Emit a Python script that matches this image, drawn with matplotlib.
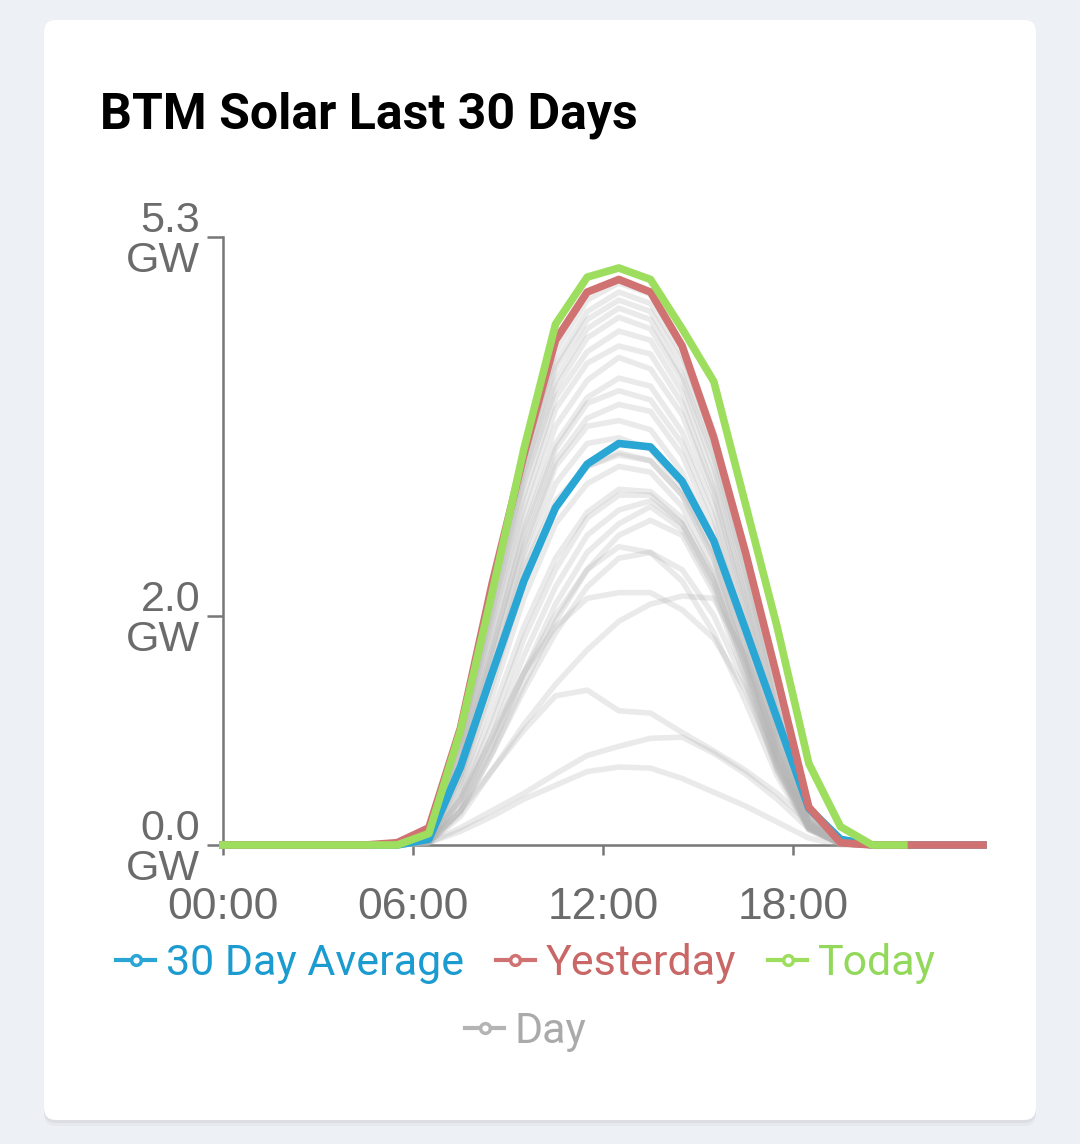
import matplotlib
matplotlib.use("Agg")
import matplotlib.pyplot as plt
from matplotlib.lines import Line2D
from matplotlib.patches import FancyBboxPatch

hours = [0.0] + [h + 0.5 for h in range(24)] + [24.0]
night_pts = 6        # 0.0 .. 4.5
day_pts = 16         # 5.5 .. 20.5

# GW, 05:30 .. 20:30
avg_30 = [0.0, 0.05, 0.68, 1.5, 2.3, 2.94, 3.32, 3.5, 3.47, 3.17, 2.65, 1.88, 1.1, 0.32, 0.05, 0.0]
yesterday = [0.02, 0.15, 1.02, 2.28, 3.4, 4.4, 4.82, 4.93, 4.82, 4.35, 3.55, 2.55, 1.46, 0.33, 0.02, 0.0]
today = [0.0, 0.1, 1.0, 2.2, 3.45, 4.54, 4.95, 5.03, 4.93, 4.5, 4.04, 2.97, 1.9, 0.71, 0.16, 0.0, 0.0]

days = [
    [0.02, 0.15, 1.0, 2.2, 3.35, 4.3, 4.75, 4.9, 4.8, 4.35, 3.6, 2.5, 1.3, 0.33, 0.03, 0.0],
    [0.01, 0.12, 0.95, 2.15, 3.3, 4.2, 4.65, 4.82, 4.72, 4.28, 3.52, 2.45, 1.25, 0.3, 0.02, 0.0],
    [0.01, 0.1, 0.9, 2.1, 3.25, 4.15, 4.58, 4.75, 4.65, 4.2, 3.45, 2.38, 1.2, 0.3, 0.02, 0.0],
    [0.0, 0.1, 0.92, 2.05, 3.2, 4.05, 4.5, 4.68, 4.58, 4.1, 3.38, 2.3, 1.15, 0.28, 0.02, 0.0],
    [0.0, 0.08, 0.85, 2.0, 3.15, 3.98, 4.42, 4.6, 4.5, 4.05, 3.3, 2.25, 1.1, 0.27, 0.02, 0.0],
    [0.0, 0.08, 0.85, 1.95, 3.05, 3.9, 4.3, 4.48, 4.4, 3.95, 3.2, 2.15, 1.05, 0.25, 0.02, 0.0],
    [0.0, 0.07, 0.8, 1.9, 2.95, 3.8, 4.2, 4.35, 4.28, 3.85, 3.1, 2.1, 1.0, 0.24, 0.02, 0.0],
    [0.0, 0.06, 0.75, 1.8, 2.85, 3.65, 4.05, 4.25, 4.15, 3.75, 3.05, 2.05, 0.98, 0.22, 0.01, 0.0],
    [0.0, 0.06, 0.7, 1.7, 2.75, 3.5, 3.9, 4.07, 4.0, 3.6, 2.95, 1.95, 0.92, 0.2, 0.01, 0.0],
    [0.0, 0.05, 0.72, 1.72, 2.7, 3.45, 3.85, 3.96, 3.88, 3.5, 2.85, 1.9, 0.9, 0.2, 0.01, 0.0],
    [0.0, 0.05, 0.68, 1.65, 2.6, 3.35, 3.72, 3.84, 3.78, 3.4, 2.75, 1.85, 0.88, 0.2, 0.01, 0.0],
    [0.0, 0.05, 0.65, 1.6, 2.55, 3.3, 3.65, 3.7, 3.62, 3.25, 2.65, 1.8, 0.85, 0.18, 0.01, 0.0],
    [0.0, 0.04, 0.6, 1.5, 2.45, 3.15, 3.5, 3.55, 3.45, 3.1, 2.55, 1.7, 0.8, 0.18, 0.01, 0.0],
    [0.0, 0.04, 0.55, 1.4, 2.3, 2.95, 3.3, 3.4, 3.35, 3.05, 2.5, 1.65, 0.78, 0.17, 0.01, 0.0],
    [0.0, 0.04, 0.5, 1.3, 2.15, 2.8, 3.15, 3.3, 3.25, 2.95, 2.4, 1.6, 0.75, 0.16, 0.01, 0.0],
    [0.0, 0.03, 0.45, 1.15, 1.9, 2.5, 2.9, 3.1, 3.08, 2.85, 2.35, 1.6, 0.75, 0.16, 0.01, 0.0],
    [0.0, 0.03, 0.4, 1.05, 1.8, 2.4, 2.85, 3.05, 3.05, 2.8, 2.3, 1.55, 0.72, 0.15, 0.01, 0.0],
    [0.0, 0.03, 0.35, 0.95, 1.65, 2.25, 2.7, 2.92, 3.0, 2.8, 2.3, 1.55, 0.7, 0.15, 0.01, 0.0],
    [0.0, 0.02, 0.3, 0.85, 1.5, 2.1, 2.55, 2.8, 2.95, 2.75, 2.25, 1.5, 0.68, 0.15, 0.01, 0.0],
    [0.0, 0.02, 0.28, 0.8, 1.4, 1.95, 2.4, 2.7, 2.83, 2.7, 2.2, 1.45, 0.65, 0.14, 0.01, 0.0],
    [0.0, 0.03, 0.4, 0.95, 1.5, 1.9, 2.15, 2.2, 2.2, 2.05, 1.8, 1.35, 0.7, 0.15, 0.01, 0.0],
    [0.0, 0.02, 0.25, 0.65, 1.05, 1.4, 1.7, 1.95, 2.1, 2.17, 2.15, 1.65, 0.85, 0.18, 0.01, 0.0],
    [0.0, 0.02, 0.3, 0.8, 1.35, 1.85, 2.25, 2.5, 2.55, 2.4, 2.0, 1.4, 0.65, 0.14, 0.01, 0.0],
    [0.0, 0.03, 0.3, 0.65, 1.0, 1.3, 1.35, 1.17, 1.15, 0.98, 0.82, 0.65, 0.45, 0.2, 0.01, 0.0],
    [0.0, 0.02, 0.15, 0.3, 0.45, 0.62, 0.78, 0.86, 0.93, 0.94, 0.8, 0.62, 0.4, 0.14, 0.01, 0.0],
    [0.0, 0.02, 0.12, 0.25, 0.4, 0.52, 0.64, 0.68, 0.67, 0.58, 0.46, 0.34, 0.2, 0.06, 0.0, 0.0],
    [0.0, 0.05, 0.6, 1.5, 2.4, 3.0, 3.3, 3.42, 3.35, 3.05, 2.5, 1.7, 0.8, 0.18, 0.01, 0.0],
    [0.0, 0.03, 0.4, 0.9, 1.5, 2.0, 2.4, 2.6, 2.55, 2.3, 1.85, 1.25, 0.6, 0.13, 0.01, 0.0],
]

y_ticks = [0.0, 2.0, 5.3]
x_ticks = [0, 6, 12, 18]
x_labels = ["00:00", "06:00", "12:00", "18:00"]

blue, red, green, grey = "#2aa6d5", "#d07272", "#9ede5e", "#b4b4b4"
blue_txt, red_txt, green_txt, grey_txt = "#1b9bcf", "#c96666", "#92d85a", "#aaaaaa"


def pad(vals):
    # night before sunrise is zero; the rest of the grid after the given values too
    full = [0.0] * night_pts + list(vals)
    full += [0.0] * (len(hours) - len(full))
    return full


W, H = 1080, 1144
fig = plt.figure(figsize=(W / 100, H / 100), dpi=100)
fig.patch.set_facecolor("#edf0f5")

# card with a soft shadow (kept behind the axes)
for off, a in [(6, 0.03), (3, 0.04)]:
    fig.patches.append(FancyBboxPatch((44 / W, 1 - (1120 + off) / H), 992 / W, 1100 / H,
                                      boxstyle="round,pad=0,rounding_size=0.011",
                                      transform=fig.transFigure, fc="#000000", alpha=a,
                                      ec="none", zorder=-2))
fig.patches.append(FancyBboxPatch((44 / W, 1 - 1120 / H), 992 / W, 1100 / H,
                                  boxstyle="round,pad=0,rounding_size=0.011",
                                  transform=fig.transFigure, fc="white", ec="none", zorder=-1))

fig.text(100 / W, 1 - 115 / H, "BTM Solar Last 30 Days", fontsize=36, fontweight="bold",
         family="Roboto", color="black", va="center", ha="left")

ax = fig.add_axes([223 / W, 1 - 845 / H, 760 / W, (845 - 237) / H])
ax.set_facecolor("none")

for d in days:
    ax.plot(hours, pad(d), color=grey, alpha=0.28, lw=4, zorder=3, clip_on=False)
ax.plot(hours, pad(avg_30), color=blue, lw=5.5, zorder=4, clip_on=False)
ax.plot(hours, pad(yesterday), color=red, lw=5.5, zorder=5, clip_on=False)
ax.plot(hours[:len(today) + night_pts], pad(today)[:len(today) + night_pts],
        color=green, lw=5.5, zorder=6, clip_on=False)

ax.set_xlim(0, 24)
ax.set_ylim(0, 5.3)
for s in ["top", "right"]:
    ax.spines[s].set_visible(False)
for s in ["left", "bottom"]:
    ax.spines[s].set_color("#777777")
    ax.spines[s].set_linewidth(1.8)

ax.set_yticks(y_ticks)
ax.set_yticklabels([f"{v:.1f}\nGW" for v in y_ticks], fontsize=31, family="Liberation Sans",
                   color="#6b6b6b", linespacing=1.0, multialignment="right")
ax.set_xticks(x_ticks)
ax.set_xticklabels(x_labels, fontsize=32, family="Liberation Sans", color="#6b6b6b")
ax.tick_params(axis="y", length=11.5, width=1.8, color="#777777", pad=5)
ax.tick_params(axis="x", length=7.5, width=1.8, color="#777777", pad=23)


def handle(c):
    return Line2D([], [], color=c, lw=3, marker="o", markersize=7,
                  markerfacecolor="white", markeredgecolor=c, markeredgewidth=2.5)


leg_font = {"family": "Roboto", "size": 31}
fig.legend([handle(blue), handle(red), handle(green)],
           ["30 Day Average", "Yesterday", "Today"],
           loc="center", bbox_to_anchor=(526 / W, 1 - 964 / H), ncol=3, frameon=False,
           prop=leg_font, handlelength=0.9, handletextpad=0.25, columnspacing=0.75,
           labelcolor=[blue_txt, red_txt, green_txt])
fig.legend([handle(grey)], ["Day"], loc="center", bbox_to_anchor=(526 / W, 1 - 1032 / H),
           frameon=False, prop=leg_font, handlelength=0.9, handletextpad=0.25,
           labelcolor=[grey_txt])

fig.savefig("out.png", dpi=100, facecolor=fig.get_facecolor())
